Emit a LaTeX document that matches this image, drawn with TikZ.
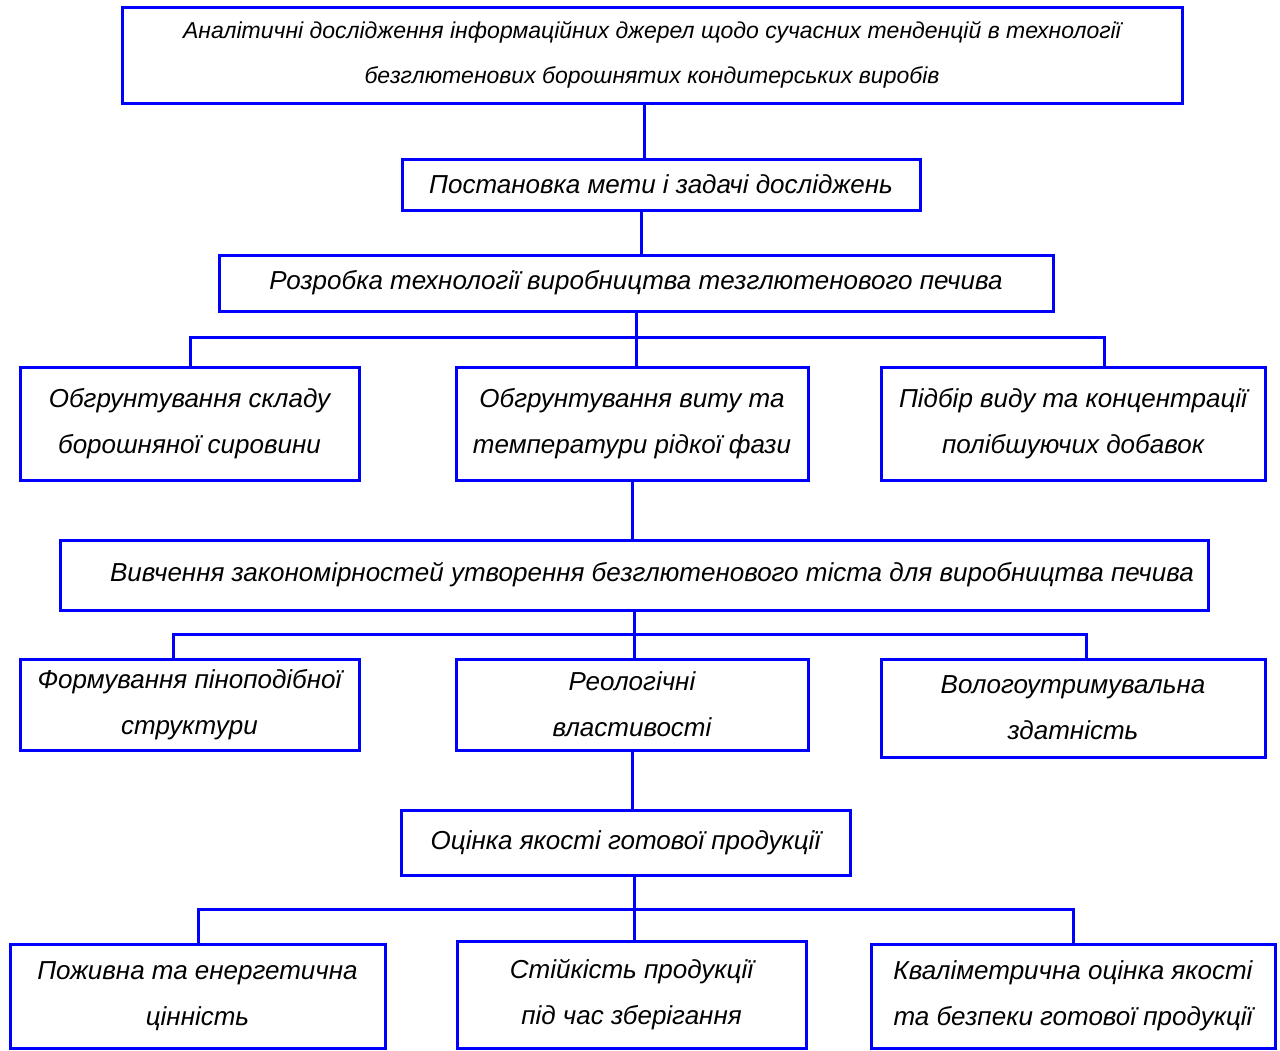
\documentclass[tikz,border=0pt]{standalone}
\usepackage{fontspec}
\setmainfont{Liberation Sans}
\begin{document}
\begin{tikzpicture}[x=1pt,y=-1pt,
  box/.style={draw=blue, line width=3pt, inner sep=0pt, align=center,
    font=\itshape\fontsize{26}{46}\selectfont},
  link/.style={draw=blue, line width=3pt}]
\useasboundingbox (0,0) rectangle (1280,1050);

\node[box, minimum width=1060pt, minimum height=96pt,
  font=\itshape\fontsize{23}{45}\selectfont] (analiz) at (652,55)
  {Аналітичні дослідження інформаційних джерел щодо сучасних тенденцій в технології\\безглютенових борошнятих кондитерських виробів};
\node[box, minimum width=518pt, minimum height=51pt] (meta) at (661,184.5)
  {Постановка мети і задачі досліджень};
\node[box, minimum width=834pt, minimum height=56pt] (rozrobka) at (636,283)
  {Розробка технології виробництва тезглютенового печива};

\node[box, minimum width=339pt, minimum height=113pt] (sklad) at (189.5,423.5)
  {Обгрунтування складу\\борошняної сировини};
\node[box, minimum width=352pt, minimum height=113pt] (faza) at (632,423.5)
  {Обгрунтування виту та\\температури рідкої фази};
\node[box, minimum width=384pt, minimum height=113pt] (dobavky) at (1073,423.5)
  {Підбір виду та концентрації\\полібшуючих добавок};

\node[box, minimum width=1148pt, minimum height=70pt] (tisto) at (634,575)
  {\hspace*{36pt}Вивчення закономірностей утворення безглютенового тіста для виробництва печива};

\node[box, minimum width=339pt, minimum height=91pt] (pina) at (189.5,704.5)
  {Формування піноподібної\\структури};
\node[box, minimum width=352pt, minimum height=91pt] (reologia) at (632,704.5)
  {Реологічні\\властивості};
\node[box, minimum width=384pt, minimum height=98pt] (voloha) at (1073,708)
  {Вологоутримувальна\\здатність};

\node[box, minimum width=449pt, minimum height=65pt] (ocinka) at (625.5,842.5)
  {Оцінка якості готової продукції};

\node[box, minimum width=375pt, minimum height=104pt] (energia) at (197.5,996)
  {Поживна та енергетична\\цінність};
\node[box, minimum width=349pt, minimum height=107pt] (stiikist) at (631.5,994.5)
  {Стійкість продукції\\під час зберігання};
\node[box, minimum width=404pt, minimum height=104pt] (kvalimetria) at (1073,996)
  {Кваліметрична оцінка якості\\та безпеки готової продукції};

% trunk
\coordinate (t1) at (644,0);
\coordinate (t2) at (641,0);
\draw[link] (analiz.south -| t1) -- (meta.north -| t1);
\draw[link] (meta.south -| t2) -- (rozrobka.north -| t2);
\draw[link] (rozrobka.south) -- (rozrobka.south |- faza.north);
\draw[link] (faza.south) -- (tisto.north -| faza.south);
\draw[link] (tisto.south) -- (tisto.south |- reologia.north);
\draw[link] (reologia.south) -- (ocinka.north -| reologia.south);
\coordinate (t3) at (634,0);
\draw[link] (ocinka.south -| t3) -- (stiikist.north -| t3);

% forks
\coordinate (f1l) at (190,337);
\coordinate (f1r) at (1104,337);
\draw[link] (sklad.north -| f1l) -- (f1l) -- (f1r) -- (dobavky.north -| f1r);
\coordinate (f2l) at (173,634);
\coordinate (f2r) at (1086,634);
\draw[link] (pina.north -| f2l) -- (f2l) -- (f2r) -- (voloha.north -| f2r);
\coordinate (f3l) at (198,909);
\coordinate (f3r) at (1073,909);
\draw[link] (energia.north -| f3l) -- (f3l) -- (f3r) -- (kvalimetria.north -| f3r);
\end{tikzpicture}
\end{document}
